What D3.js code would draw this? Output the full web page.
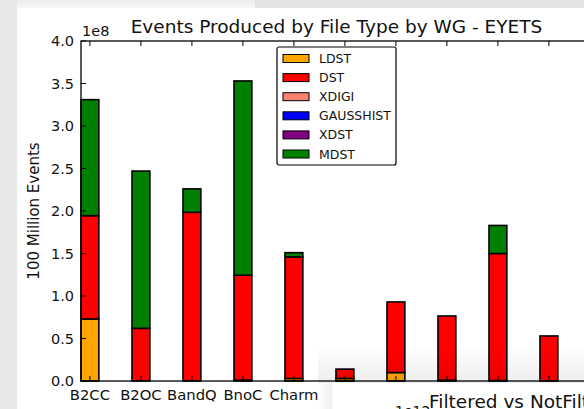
<!DOCTYPE html>
<html>
<head>
<meta charset="utf-8">
<script src="https://cdn.jsdelivr.net/npm/d3@7"></script>
<style>
  body { margin: 0; background: #ececec; }
  svg { display: block; font-family: "DejaVu Sans", sans-serif; }
</style>
</head>
<body>
<div id="chart"></div>
<script>
// working groups (last ones are hidden behind the other window)
const categories = ["B2CC", "B2OC", "BandQ", "BnoC", "Charm", "IFT", "QEE", "RD", "SL", "Stripping"];
const fileTypes = ["LDST", "DST", "XDIGI", "GAUSSHIST", "XDST", "MDST"];
const colors = ["#ffa500", "#ff0000", "#fa8072", "#0000ff", "#800080", "#008000"];

// values in units of 1e8 events
const ldst      = [0.73, 0.00, 0.00, 0.01, 0.03, 0.03, 0.10, 0.01, 0.005, 0.00];
const dst       = [1.215, 0.62, 1.985, 1.235, 1.43, 0.11, 0.83, 0.755, 1.495, 0.53];
const xdigi     = [0, 0, 0, 0, 0, 0, 0, 0, 0, 0];
const gausshist = [0, 0, 0, 0, 0, 0, 0, 0, 0, 0];
const xdst      = [0, 0, 0, 0, 0, 0, 0, 0, 0, 0];
const mdst      = [1.365, 1.85, 0.275, 2.285, 0.05, 0, 0, 0, 0.33, 0];

const yTicks = [0, 0.5, 1.0, 1.5, 2.0, 2.5, 3.0, 3.5, 4.0];

const W = 584, H = 409;
const margin = {left: 81, top: 41, right: 592, bottom: 381};
const barWidth = 0.35;

const svg = d3.select("#chart").append("svg")
    .attr("width", W)
    .attr("height", H);

const defs = svg.append("defs");
function grad(id, x1, y1, x2, y2, stops) {
    let g = defs.append("linearGradient").attr("id", id)
        .attr("x1", x1).attr("y1", y1).attr("x2", x2).attr("y2", y2);
    stops.forEach(s => g.append("stop").attr("offset", s[0]).attr("stop-color", s[1]).attr("stop-opacity", s[2]));
}
grad("leftShade", 0, 0, 1, 0, [[0, "#e8e8e8", 1], [1, "#f5f5f5", 1]]);
grad("topShade", 0, 0, 0, 1, [[0, "#ececec", 1], [1, "#f6f6f6", 1]]);
grad("winShadowUp", 0, 0, 0, 1, [[0, "#000", 0], [1, "#000", 0.07]]);
grad("winShadowLeft", 0, 0, 1, 0, [[0, "#000", 0], [1, "#000", 0.06]]);

// desktop background around the window
svg.append("rect").attr("width", W).attr("height", H).attr("fill", "url(#leftShade)");
svg.append("rect").attr("x", 17).attr("width", 240).attr("height", 8).attr("fill", "url(#topShade)");
// window behind, top right
const back = svg.append("g");
back.append("rect").attr("x", 255).attr("y", 0).attr("width", W - 255).attr("height", 8).attr("fill", "#e4e4e4");
back.append("clipPath").attr("id", "backClip").append("rect")
    .attr("x", 255).attr("y", 0).attr("width", W - 255).attr("height", 8);
[["3.5", 300], ["4.0", 405], ["4.0", 512]].forEach(d => {
    back.append("text")
        .attr("clip-path", "url(#backClip)")
        .attr("transform", "translate(" + d[1] + ",10) rotate(-50)")
        .attr("font-size", "13px")
        .attr("fill", "#222")
        .text(d[0]);
});

// main window
svg.append("rect").attr("x", 17).attr("y", 8).attr("width", W - 17).attr("height", H - 8).attr("fill", "#fff");

const x = d3.scaleLinear().domain([0, 10.02]).range([margin.left, margin.right]);
const y = d3.scaleLinear().domain([0, 4]).range([margin.bottom, margin.top]);

const table = categories.map((c, i) => ({
    cat: c, i: i,
    LDST: ldst[i], DST: dst[i], XDIGI: xdigi[i], GAUSSHIST: gausshist[i], XDST: xdst[i], MDST: mdst[i]
}));
const series = d3.stack().keys(fileTypes)(table);

const plot = svg.append("g");
plot.selectAll("g.layer").data(series).enter().append("g")
    .attr("class", "layer")
    .attr("fill", (d, i) => colors[i])
    .selectAll("rect").data(d => d.filter(v => v[1] - v[0] > 0)).enter().append("rect")
    .attr("x", d => x(d.data.i))
    .attr("width", d => x(d.data.i + barWidth) - x(d.data.i))
    .attr("y", d => y(d[1]))
    .attr("height", d => y(d[0]) - y(d[1]))
    .attr("stroke", "#000")
    .attr("stroke-width", 1.6);

// frame
svg.append("rect")
    .attr("x", margin.left).attr("y", margin.top)
    .attr("width", margin.right - margin.left).attr("height", margin.bottom - margin.top)
    .attr("fill", "none").attr("stroke", "#000").attr("stroke-width", 1.3);

// ticks (inside, classic style)
const tickLen = 5;
yTicks.forEach(t => {
    svg.append("line").attr("x1", margin.left).attr("x2", margin.left + tickLen)
        .attr("y1", y(t)).attr("y2", y(t)).attr("stroke", "#000");
    svg.append("text")
        .attr("x", margin.left - 7).attr("y", y(t)).attr("dy", "0.36em")
        .attr("text-anchor", "end").attr("font-size", "14.5px").attr("fill", "#111")
        .text(t.toFixed(1));
});
categories.forEach((c, i) => {
    const cx = x(i + barWidth / 2);
    svg.append("line").attr("x1", cx).attr("x2", cx)
        .attr("y1", margin.bottom).attr("y2", margin.bottom - tickLen).attr("stroke", "#000");
    svg.append("line").attr("x1", cx).attr("x2", cx)
        .attr("y1", margin.top).attr("y2", margin.top + tickLen).attr("stroke", "#000");
    svg.append("text")
        .attr("x", cx).attr("y", margin.bottom + 19)
        .attr("text-anchor", "middle").attr("font-size", "14.8px").attr("fill", "#111")
        .text(c);
});

svg.append("text").attr("x", 82).attr("y", 36)
    .attr("font-size", "14.5px").attr("fill", "#111").text("1e8");

svg.append("text")
    .attr("transform", "translate(39,211) rotate(-90)")
    .attr("text-anchor", "middle").attr("font-size", "15px").attr("fill", "#111")
    .text("100 Million Events");

svg.append("text")
    .attr("x", (margin.left + margin.right) / 2).attr("y", 33)
    .attr("text-anchor", "middle").attr("font-size", "18.5px").attr("fill", "#111")
    .text("Events Produced by File Type by WG - EYETS");

// legend
const legend = svg.append("g").attr("transform", "translate(277,47)");
legend.append("rect").attr("width", 119).attr("height", 118).attr("rx", 2)
    .attr("fill", "#fff").attr("stroke", "#000").attr("stroke-width", 1.2);
fileTypes.forEach((f, i) => {
    const ry = 10 + i * 19.1;
    legend.append("rect").attr("x", 6).attr("y", ry - 2.5).attr("width", 26).attr("height", 8)
        .attr("fill", colors[i]).attr("stroke", "#000").attr("stroke-width", 1);
    legend.append("text").attr("x", 42).attr("y", ry + 1.5).attr("dy", "0.36em")
        .attr("font-size", "12.5px").attr("fill", "#111").text(f);
});

// overlapping window at bottom right and its shadow
svg.append("rect").attr("x", 318).attr("y", 345).attr("width", W - 318).attr("height", 38)
    .attr("fill", "url(#winShadowUp)");
svg.append("rect").attr("x", 318).attr("y", 383).attr("width", 14).attr("height", H - 383)
    .attr("fill", "url(#winShadowLeft)");
const front = svg.append("g");
front.append("rect").attr("x", 332).attr("y", 383).attr("width", W - 332).attr("height", H - 383).attr("fill", "#fff");
front.append("text").attr("x", 395).attr("y", 416).attr("font-size", "14px").attr("fill", "#111").text("1e12");
front.append("text").attr("x", 429).attr("y", 408).attr("font-size", "18.5px").attr("fill", "#111")
    .text("Filtered vs NotFiltered");
</script>
</body>
</html>
